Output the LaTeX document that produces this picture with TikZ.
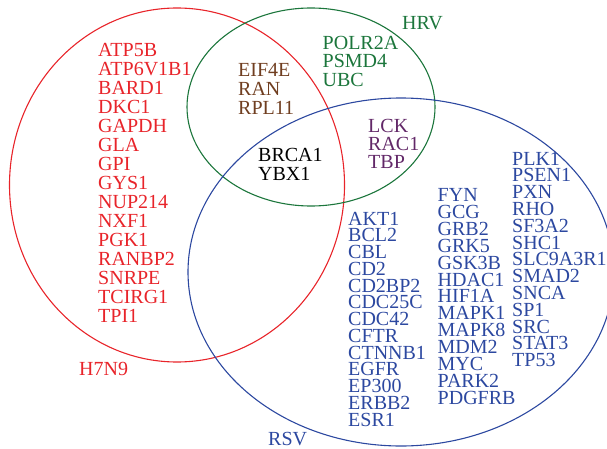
\documentclass[tikz,border=0pt]{standalone}
\usepackage{fontspec}
\setmainfont{Liberation Serif}
\definecolor{cred}{RGB}{232,36,42}
\definecolor{cgreen}{RGB}{28,118,60}
\definecolor{cblue}{RGB}{44,72,160}
\definecolor{cbrown}{RGB}{112,62,32}
\definecolor{cpurple}{RGB}{98,40,104}
\begin{document}
\begin{tikzpicture}[x=1pt,y=-1pt,
  gene/.style={anchor=base west,inner sep=0pt,font=\fontsize{20}{20}\selectfont},
  setline/.style={line width=1.1pt}]
\useasboundingbox (0,0) rectangle (607,449);
% sets
\draw[setline,cred] (177,185) ellipse [x radius=167.5pt, y radius=177pt];
\draw[setline,cgreen] (311,107) ellipse [x radius=124pt, y radius=99pt];
\draw[setline,cblue] (401,272) ellipse [x radius=213pt, y radius=174pt];
% set labels
\node[gene,cred] (lh7n9) at (79,375) {H7N9};
\node[gene,cgreen] (lhrv) at (402,30) {HRV};
\node[gene,cblue] (lrsv) at (268,445) {RSV};
% H7N9 only
\foreach \t [count=\i from 0] in {ATP5B,ATP6V1B1,BARD1,DKC1,GAPDH,GLA,GPI,GYS1,NUP214,NXF1,PGK1,RANBP2,SNRPE,TCIRG1,TPI1}
  \node[gene,cred] (h\i) at (98,{57+18.96*\i}) {\t};
% H7N9 & HRV
\foreach \t [count=\i from 0] in {EIF4E,RAN,RPL11}
  \node[gene,cbrown] (hh\i) at (238,{77+19*\i}) {\t};
% all three
\foreach \t [count=\i from 0] in {BRCA1,YBX1}
  \node[gene,black] (a\i) at (258,{162+18.5*\i}) {\t};
% HRV only
\foreach \t [count=\i from 0] in {POLR2A,PSMD4,UBC}
  \node[gene,cgreen] (g\i) at (322.5,{49.5+18.5*\i}) {\t};
% HRV & RSV
\foreach \t [count=\i from 0] in {LCK,RAC1,TBP}
  \node[gene,cpurple] (p\i) at (368,{132.5+18*\i}) {\t};
% RSV only
\foreach \t [count=\i from 0] in {AKT1,BCL2,CBL,CD2,CD2BP2,CDC25C,CDC42,CFTR,CTNNB1,EGFR,EP300,ERBB2,ESR1}
  \node[gene,cblue] (r\i) at (348,{225+16.75*\i}) {\t};
\foreach \t [count=\i from 0] in {FYN,GCG,GRB2,GRK5,GSK3B,HDAC1,HIF1A,MAPK1,MAPK8,MDM2,MYC,PARK2,PDGFRB}
  \node[gene,cblue] (s\i) at (437.5,{201.7+16.86*\i}) {\t};
\foreach \t [count=\i from 0] in {PLK1,PSEN1,PXN,RHO,SF3A2,SHC1,SLC9A3R1,SMAD2,SNCA,SP1,SRC,STAT3,TP53}
  \node[gene,cblue] (t\i) at (512,{165+16.8*\i}) {\t};
\end{tikzpicture}
\end{document}
